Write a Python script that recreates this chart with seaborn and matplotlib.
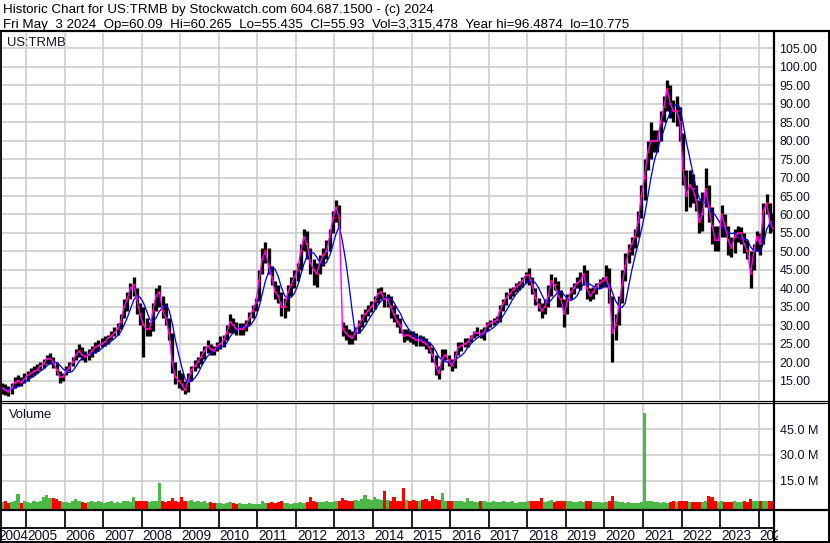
import numpy as np
import pandas as pd
import matplotlib
matplotlib.use("Agg")
import matplotlib.pyplot as plt
import seaborn as sns
from matplotlib.lines import Line2D
from matplotlib import font_manager as fm
from matplotlib.transforms import Bbox, TransformedBbox

# ---------------- data (monthly, May 2004 .. May 2024) ----------------
months = pd.period_range("2004-05", "2024-05", freq="M")

close = [
    13, 12.5, 12, 13, 14.5, 15, 14.5, 15.5,                          # 2004
    16.5, 17, 17.5, 18, 19, 19.5, 21, 21, 20, 18, 16, 16,            # 2005
    17.5, 18.5, 20, 22, 23, 22, 21.5, 22, 23, 24, 24.5, 25,          # 2006
    25.5, 26.5, 27, 28, 29, 31, 35, 37, 40, 41, 37, 33,              # 2007
    30, 29, 29, 34, 38, 39, 34, 32, 28, 20, 16, 15,                  # 2008
    14, 12.5, 15, 18, 19, 20, 21.5, 23, 24.5, 23.5, 23, 24.5,        # 2009
    25, 26, 28, 31, 30, 29, 29, 29, 30, 32, 34, 36,                  # 2010
    42, 48, 50, 46, 43, 39, 38, 35, 35, 39, 41, 43,                  # 2011
    45, 50, 54, 52, 47, 45, 44, 47, 49, 50, 54, 59,                  # 2012
    62, 59, 29, 28, 27, 26.5, 28, 30, 31.5, 33, 34, 35,              # 2013
    36.5, 38.5, 39, 37, 37, 35, 33, 31, 30, 27, 27.5, 27,            # 2014
    26.5, 26, 26, 25.5, 25, 24, 22, 19, 17, 21, 22, 20.5,            # 2015
    19, 21, 24, 24.5, 25, 25.5, 26.5, 28, 28, 27.5, 28, 30,          # 2016
    30.5, 31, 31.5, 34, 36, 37.5, 38.5, 39.5, 40.5, 41, 42, 43.5,    # 2017
    43.5, 41, 37.5, 35.5, 34, 35, 38, 42, 41, 38, 37, 33,            # 2018
    36.5, 39, 40, 41.5, 42, 44, 40, 38, 39, 40.5, 41.5, 42,          # 2019
    43, 40, 28, 30, 35, 41, 46, 50, 52, 54, 58, 65,                  # 2020
    70, 77, 80, 80, 80, 85, 89, 94, 90, 88, 88, 85,                  # 2021
    72, 65, 68, 67, 64, 58, 60, 67, 62, 57, 53, 53,                  # 2022
    60, 57, 53, 51, 54, 55, 55, 52, 50, 44, 50, 54,                  # 2023
    52, 61, 63, 58, 56,                                              # 2024
]
low = [
    11.5, 11, 10.8, 11.5, 13, 13.5, 13.5, 14.5,
    15, 16, 16.5, 17, 18, 18.5, 19.5, 19.5, 18.5, 16.5, 14.5, 15,
    16.5, 17.5, 19, 20.5, 21.5, 20.5, 20, 20.5, 21.5, 22.5, 23, 24,
    24.5, 25, 26, 27, 27.5, 29, 32, 34, 37, 38, 33, 30,
    21.5, 27, 27, 28.5, 34, 35, 32, 30, 26, 17, 14, 13,
    12.5, 11.5, 12, 15, 17.5, 18.5, 19.5, 21, 22.5, 22, 22, 23,
    23.5, 24, 26, 28, 28, 27.5, 27.5, 27.5, 28.5, 30, 32, 34,
    36.5, 44, 47, 44, 41, 37, 36, 32.5, 32, 34, 38, 40,
    42, 45, 50, 48, 44, 41, 40.5, 44, 46, 48, 50, 55,
    58, 56, 27, 26, 25, 25, 26, 28, 29.5, 31, 32.5, 33.5,
    34.5, 36, 37, 35, 35, 32, 31, 29.5, 28, 25.5, 26, 25.5,
    25, 24.5, 24.5, 24.5, 23.5, 22.5, 20, 16.5, 15.5, 18, 20.5, 19,
    17.5, 18.5, 22, 23, 24, 24, 25.5, 26.5, 27, 26.5, 26, 28.5,
    29.5, 30, 30.5, 31, 34, 35.5, 37, 38, 39, 39.5, 40.5, 41.5,
    41, 38.5, 35.5, 34, 32, 33, 35, 38, 39.5, 35, 35, 29.5,
    33, 37, 38.5, 40, 39.5, 41, 37, 36.5, 37, 38.5, 40, 40.5,
    40.5, 36, 20, 26, 30, 36, 42, 47, 49, 51, 54, 59,
    64, 72, 75, 77, 77, 80, 85, 88, 86, 85, 84, 80,
    68, 61, 62, 63, 61, 55, 55.5, 62, 58, 52, 50, 50,
    54, 54, 49, 48.5, 49.5, 52.5, 52, 49.5, 48, 40, 45, 50,
    49, 52, 60, 55, 55.4,
]
high = [
    14.5, 14, 13.5, 14.5, 16, 16.5, 16, 17,
    17.5, 18.5, 19, 19.5, 20, 21, 22, 22.5, 21.5, 20, 17.5, 17,
    19, 20, 21.5, 23.5, 25, 24, 23, 23.5, 24.5, 25.5, 26, 26.5,
    27, 27.5, 28.5, 29.5, 30.5, 33, 37, 39, 41.5, 43, 40, 36,
    35, 32, 31, 36, 40, 41, 38, 36, 32, 28, 20, 18,
    17, 15, 17, 19, 20.5, 21.5, 23, 24.5, 26, 25, 24.5, 25.5,
    27, 27.5, 30, 33, 32, 31, 30.5, 30.5, 31.5, 33.5, 35.5, 37.5,
    45, 51, 52.5, 51, 46, 42, 41, 39, 37.5, 41, 43, 45,
    47, 52, 56, 55.5, 51, 48, 47, 49, 51, 53, 56, 61,
    64, 62.5, 31, 30, 29, 28.5, 29.5, 31.5, 33, 34.5, 35.5, 36.5,
    38, 40, 40.5, 39, 38.5, 38, 35.5, 33, 32, 29, 29, 28.5,
    28.5, 28, 27.5, 27, 26.5, 25.5, 24, 22, 19, 23.5, 23.5, 22,
    21, 23, 25.5, 25.5, 26.5, 26.5, 27.5, 28.5, 29.5, 29, 29.5, 31,
    31.5, 32, 32.5, 35.5, 37, 39, 40, 40.5, 41.5, 42, 43, 44.5,
    45.5, 43, 40, 37.5, 36, 37, 41, 44, 43, 42, 39.5, 37,
    38.5, 40.5, 41.5, 43, 44.5, 46.3, 45, 40, 40.5, 41.5, 42.5, 43,
    46.3, 45.5, 38, 33, 38, 45, 49.5, 52, 54, 56, 61, 68,
    75, 80, 85, 83, 83, 88, 92, 96.5, 95, 91, 92, 89,
    82, 72, 72, 71, 68, 64, 66, 72.5, 68, 62, 57, 57,
    62.5, 60, 57, 54, 56, 57, 56.5, 55, 53, 50, 52, 55.5,
    55, 63, 65.5, 63, 60.3,
]
volume_m = [
    2.5, 3.0, 2.0, 2.5, 3.0, 7.5, 2.0, 3.0,
    2.5, 2.0, 3.0, 2.5, 3.0, 5.5, 6.5, 5.0, 5.0, 4.5, 3.0, 2.5,
    2.5, 2.0, 3.0, 4.5, 3.5, 2.5, 2.0, 2.5, 3.0, 2.5, 3.5, 2.5,
    2.0, 2.5, 3.0, 2.0, 2.5, 2.0, 3.0, 3.5, 2.5, 5.5, 3.5, 3.0,
    3.5, 3.0, 2.5, 3.0, 3.5, 13.8, 3.0, 2.5, 3.0, 5.0, 3.0, 2.5,
    5.5, 3.5, 3.0, 4.0, 2.5, 3.0, 2.5, 3.5, 2.0, 2.5, 2.0, 2.0,
    2.0, 1.5, 2.0, 2.5, 2.0, 1.5, 2.0, 1.5, 1.5, 2.0, 1.5, 1.5,
    1.5, 3.0, 2.0, 2.0, 2.5, 2.0, 2.5, 3.0, 2.0, 2.0, 1.5, 2.0,
    2.0, 2.5, 2.0, 2.5, 5.7, 3.0, 2.5, 2.5, 2.5, 3.0, 2.5, 2.5,
    3.0, 3.5, 5.0, 4.0, 3.5, 3.0, 4.0, 3.5, 4.5, 6.5, 4.5, 4.0,
    5.7, 4.5, 4.0, 9.2, 4.0, 3.5, 5.5, 3.5, 3.5, 11.0, 4.0, 3.5,
    4.0, 3.5, 3.5, 4.0, 4.2, 3.5, 6.0, 4.5, 4.0, 8.0, 3.5, 3.0,
    3.5, 3.5, 3.0, 3.0, 2.5, 5.0, 3.0, 2.5, 2.5, 3.0, 3.5, 2.5,
    2.5, 3.0, 2.5, 2.5, 3.0, 2.5, 2.5, 3.0, 2.0, 2.5, 2.5, 2.5,
    3.0, 3.5, 3.0, 3.0, 5.0, 2.5, 3.0, 4.0, 2.5, 3.5, 3.0, 3.5,
    3.0, 3.0, 2.5, 2.5, 3.5, 2.5, 3.0, 3.5, 2.5, 2.5, 2.5, 2.0,
    2.5, 3.0, 6.1, 3.5, 2.5, 2.5, 2.0, 2.5, 2.0, 2.0, 2.0, 2.5,
    54.3, 3.0, 3.5, 2.5, 2.5, 2.0, 2.5, 2.0, 2.5, 3.0, 2.5, 3.0,
    3.0, 3.0, 2.5, 2.5, 2.5, 2.5, 2.5, 3.0, 6.1, 5.3, 3.0, 2.5,
    3.0, 2.5, 2.5, 2.5, 3.0, 2.5, 2.5, 3.0, 2.5, 4.2, 3.5, 3.0,
    3.0, 3.5, 3.0, 3.0, 3.3,
]
price_ticks = list(range(15, 106, 5))
volume_ticks = [15, 30, 45]
year_labels = list(range(2004, 2025))
header1 = "Historic Chart for US:TRMB by Stockwatch.com 604.687.1500 - (c) 2024"
header2 = ("Fri May  3 2024  Op=60.09  Hi=60.265  Lo=55.435  Cl=55.93  "
           "Vol=3,315,478  Year hi=96.4874  lo=10.775")

# ---------------- derived ----------------
t = np.array([p.year + (p.month - 0.5) / 12 for p in months])
df = pd.DataFrame({"t": t, "close": close, "low": low, "high": high, "vol": volume_m})
df["ma_short"] = df["close"]
df["ma_long"] = df["close"].rolling(5, min_periods=1).mean()
df["up"] = df["close"].diff().fillna(0) >= 0

# ---------------- style ----------------
W, H = 830, 543
sns.set_style("white")
avail = {f.name for f in fm.fontManager.ttflist}
REG = "Liberation Sans" if "Liberation Sans" in avail else "DejaVu Sans"
plt.rcParams["font.family"] = [REG, "DejaVu Sans"]
TXT = "#101028"


def pt(px):
    return px * 0.72


fig = plt.figure(figsize=(W / 100, H / 100), dpi=100)
fig.patch.set_facecolor("white")


def axes_px(x0, y0, x1, y1):
    return fig.add_axes([x0 / W, 1 - y1 / H, (x1 - x0) / W, (y1 - y0) / H])


PXY = 38.56     # pixels per year
X2005 = 26.0    # pixel x of 1 Jan 2005
AX_L, AX_R = 2.0, 773.0


def t2px(tt):
    return X2005 + (tt - 2005) * PXY


xlim = (2005 + (AX_L - X2005) / PXY, 2005 + (AX_R - X2005) / PXY)
grid_kw = dict(color="#c8c8c8", lw=pt(1.5))
lab_size, vol_size, yr_size = pt(12.4), pt(12.6), pt(13.6)

# ---------------- price panel ----------------
ax = axes_px(AX_L, 33, AX_R, 400)
ax.set_xlim(*xlim)
ylo = 15 - (400 - 380.7) / 3.693
yhi = 105 + (48.3 - 33) / 3.693
ax.set_ylim(ylo, yhi)
ax.set_xticks(range(2005, 2025))
ax.set_yticks(price_ticks)
ax.grid(True, **grid_kw)
ax.set_axisbelow(True)
ax.vlines(df["t"], df["low"], df["high"], color="black", lw=pt(3.3), zorder=2)
ax.plot(df["t"], df["close"], ls="none", marker="_", ms=pt(3), mew=pt(1.6),
        color="#ff0000", zorder=3)
sns.lineplot(data=df, x="t", y="ma_long", ax=ax, color="#0000ff", lw=pt(1.3),
             estimator=None, sort=False, zorder=4)
sns.lineplot(data=df, x="t", y="ma_short", ax=ax, color="#ff00ff", lw=pt(1.4),
             estimator=None, sort=False, zorder=5)
ax.set_xlabel("")
ax.set_ylabel("")
ax.yaxis.tick_right()
ax.set_yticklabels([f"{v:.2f}" for v in price_ticks], fontsize=lab_size, color=TXT)
ax.tick_params(axis="y", length=0, pad=pt(6.5))
ax.tick_params(axis="x", length=0, labelbottom=False)
for s in ax.spines.values():
    s.set_visible(False)

# ---------------- volume panel ----------------
axv = axes_px(AX_L, 403, AX_R, 509)
axv.set_xlim(*xlim)
vlo = 15 - (509 - 480.7) / 1.7233
vhi = 45 + (429 - 403) / 1.7233
axv.set_ylim(vlo, vhi)
axv.set_xticks(range(2005, 2025))
axv.set_yticks(volume_ticks)
axv.grid(True, **grid_kw)
axv.set_axisbelow(True)
bar_colors = ["#4cb848" if u else "#ff0000" for u in df["up"]]
axv.bar(df["t"], df["vol"] - vlo, bottom=vlo, width=1 / 12, color=bar_colors,
        linewidth=0, zorder=2)
axv.yaxis.tick_right()
axv.set_yticklabels([f"{v:.1f} M" for v in volume_ticks], fontsize=vol_size, color=TXT)
axv.tick_params(axis="y", length=0, pad=pt(6.5))
axv.tick_params(axis="x", length=0, labelbottom=False)
for s in axv.spines.values():
    s.set_visible(False)


# ---------------- frame lines ----------------
def hline(y, x0, x1, w):
    fig.add_artist(Line2D([x0 / W, x1 / W], [1 - y / H, 1 - y / H],
                          transform=fig.transFigure, color="black", lw=pt(w),
                          solid_capstyle="butt"))


def vline(x, y0, y1, w):
    fig.add_artist(Line2D([x / W, x / W], [1 - y0 / H, 1 - y1 / H],
                          transform=fig.transFigure, color="black", lw=pt(w),
                          solid_capstyle="butt"))


hline(31.0, 0, W, 2.2)
hline(400.6, 0, W, 1.2)
hline(402.6, 0, W, 1.2)
hline(510.0, 0, W, 2.2)
hline(527.5, 0, AX_R + 1, 1.8)
hline(542.0, 0, W, 2.0)
vline(0.9, 31, H, 1.8)
vline(774.2, 31, H, 2.2)
vline(829.0, 31, H, 2.0)
for yr in range(2005, 2025):
    vline(t2px(yr), 510, 527.5, 1.7)

# ---------------- texts ----------------
def ftext(x, y, s, **kw):
    return fig.text(x / W, 1 - y / H, s, va="baseline", ha="left", **kw)


ftext(3, 13.5, header1, fontsize=pt(13.4), color="black")
ftext(3, 28.2, header2, fontsize=pt(13.4), color="black")
ftext(7.3, 45.6, "US:TRMB", fontsize=pt(13), color=TXT)
ftext(9.0, 418.2, "Volume", fontsize=pt(13), color=TXT)

clip = TransformedBbox(Bbox([[0, 0], [778 / W, 1]]), fig.transFigure)
for yr in year_labels:
    x = -1.5 if yr == 2004 else t2px(yr) + 1.0
    tx = ftext(x, 540.5, str(yr), fontsize=yr_size, color=TXT)
    tx.set_clip_box(clip)
    tx.set_clip_on(True)

fig.savefig("out.png", dpi=100, facecolor="white")
